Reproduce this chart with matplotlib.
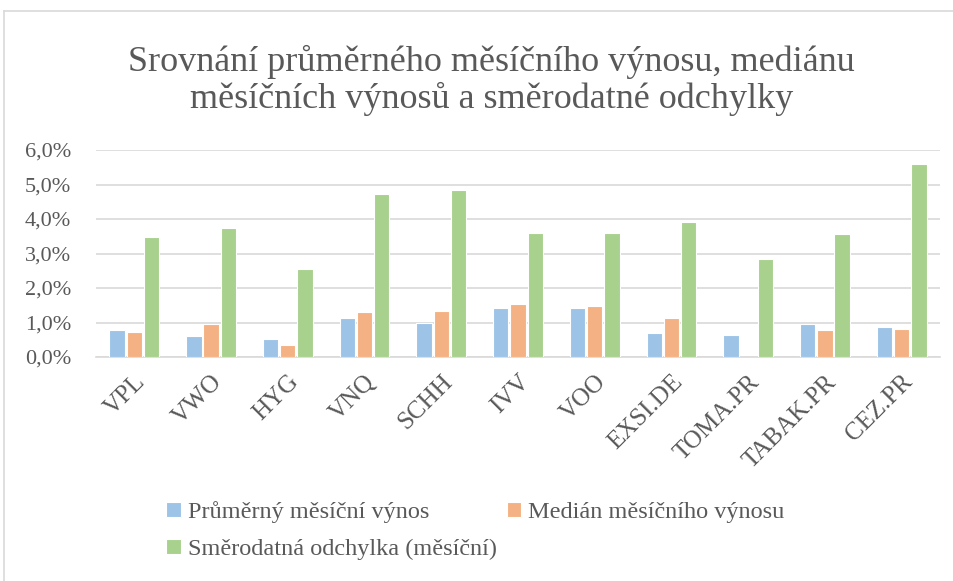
import numpy as np
import matplotlib.pyplot as plt
from matplotlib.lines import Line2D
from matplotlib.ticker import FuncFormatter

plt.rcParams['font.family'] = ['Liberation Serif', 'DejaVu Serif']

# data (monthly, in %)
tickers = ['VPL', 'VWO', 'HYG', 'VNQ', 'SCHH', 'IVV', 'VOO',
           'EXSI.DE', 'TOMA.PR', 'TABAK.PR', 'CEZ.PR']
prumer = [0.79, 0.60, 0.53, 1.13, 0.99, 1.42, 1.42, 0.69, 0.65, 0.95, 0.87]
median = [0.72, 0.95, 0.35, 1.29, 1.33, 1.54, 1.47, 1.12, 0.0, 0.77, 0.80]
odchylka = [3.48, 3.74, 2.55, 4.72, 4.83, 3.59, 3.59, 3.92, 2.85, 3.56, 5.60]

series_names = ['Průměrný měsíční výnos', 'Medián měsíčního výnosu',
                'Směrodatná odchylka (měsíční)']
colors = ['#9DC3E6', '#F4B183', '#A9D18E']
text_color = '#595959'
grid_color = '#D9D9D9'

fig = plt.figure(figsize=(9.54, 5.81), dpi=100)
ax = fig.add_axes([96 / 954, 1 - 357 / 581, 844 / 954, 207 / 581])

x = np.arange(len(tickers))
w = 0.2
step = 0.225
bars = []
for i, (vals, c) in enumerate(zip([prumer, median, odchylka], colors)):
    b = ax.bar(x + (i - 1) * step, vals, width=w, color=c, edgecolor='white',
               linewidth=0.8, zorder=3)
    bars.append(b)

ax.set_xlim(-0.5, len(tickers) - 0.5)
ax.set_ylim(0, 6)
ax.set_yticks(np.arange(0, 7, 1))
ax.yaxis.set_major_formatter(FuncFormatter(lambda v, p: f'{v:.1f}%'.replace('.', ',')))
ax.grid(axis='y', color=grid_color, linewidth=1.2, zorder=0)
for s in ['top', 'right', 'left']:
    ax.spines[s].set_visible(False)
ax.spines['bottom'].set_color(grid_color)
ax.spines['bottom'].set_linewidth(1.2)
ax.tick_params(axis='both', length=0, colors=text_color)
ax.tick_params(axis='y', labelsize=16, pad=18)
ax.set_xticks(x)
ax.set_xticklabels(tickers, rotation=45, ha='right', va='top',
                   rotation_mode='anchor', fontsize=18, color=text_color)
ax.tick_params(axis='x', pad=10)

fig.text(0.515, 0.862, 'Srovnání průměrného měsíčního výnosu, mediánu\n'
         'měsíčních výnosů a směrodatné odchylky',
         ha='center', va='center', fontsize=26, color=text_color, linespacing=1.1)

# row-wise order: first row = average + median, second row = std dev
order = [0, 2, 1]
fig.legend([bars[i] for i in order], [series_names[i] for i in order],
           ncol=2, loc='center left',
           bbox_to_anchor=(0.151, 0.087), frameon=False, fontsize=17.5,
           labelcolor=text_color, handlelength=0.6, handleheight=0.6,
           handletextpad=0.3, columnspacing=0.4, labelspacing=0.65)

# chart border (partly cropped in the original)
fig.add_artist(Line2D([0.004, 1.0], [1 - 11 / 581, 1 - 11 / 581],
                      transform=fig.transFigure, color=grid_color, lw=1.2))
fig.add_artist(Line2D([0.004, 0.004], [0, 1 - 11 / 581],
                      transform=fig.transFigure, color=grid_color, lw=1.2))

fig.savefig('out.png', dpi=100)
